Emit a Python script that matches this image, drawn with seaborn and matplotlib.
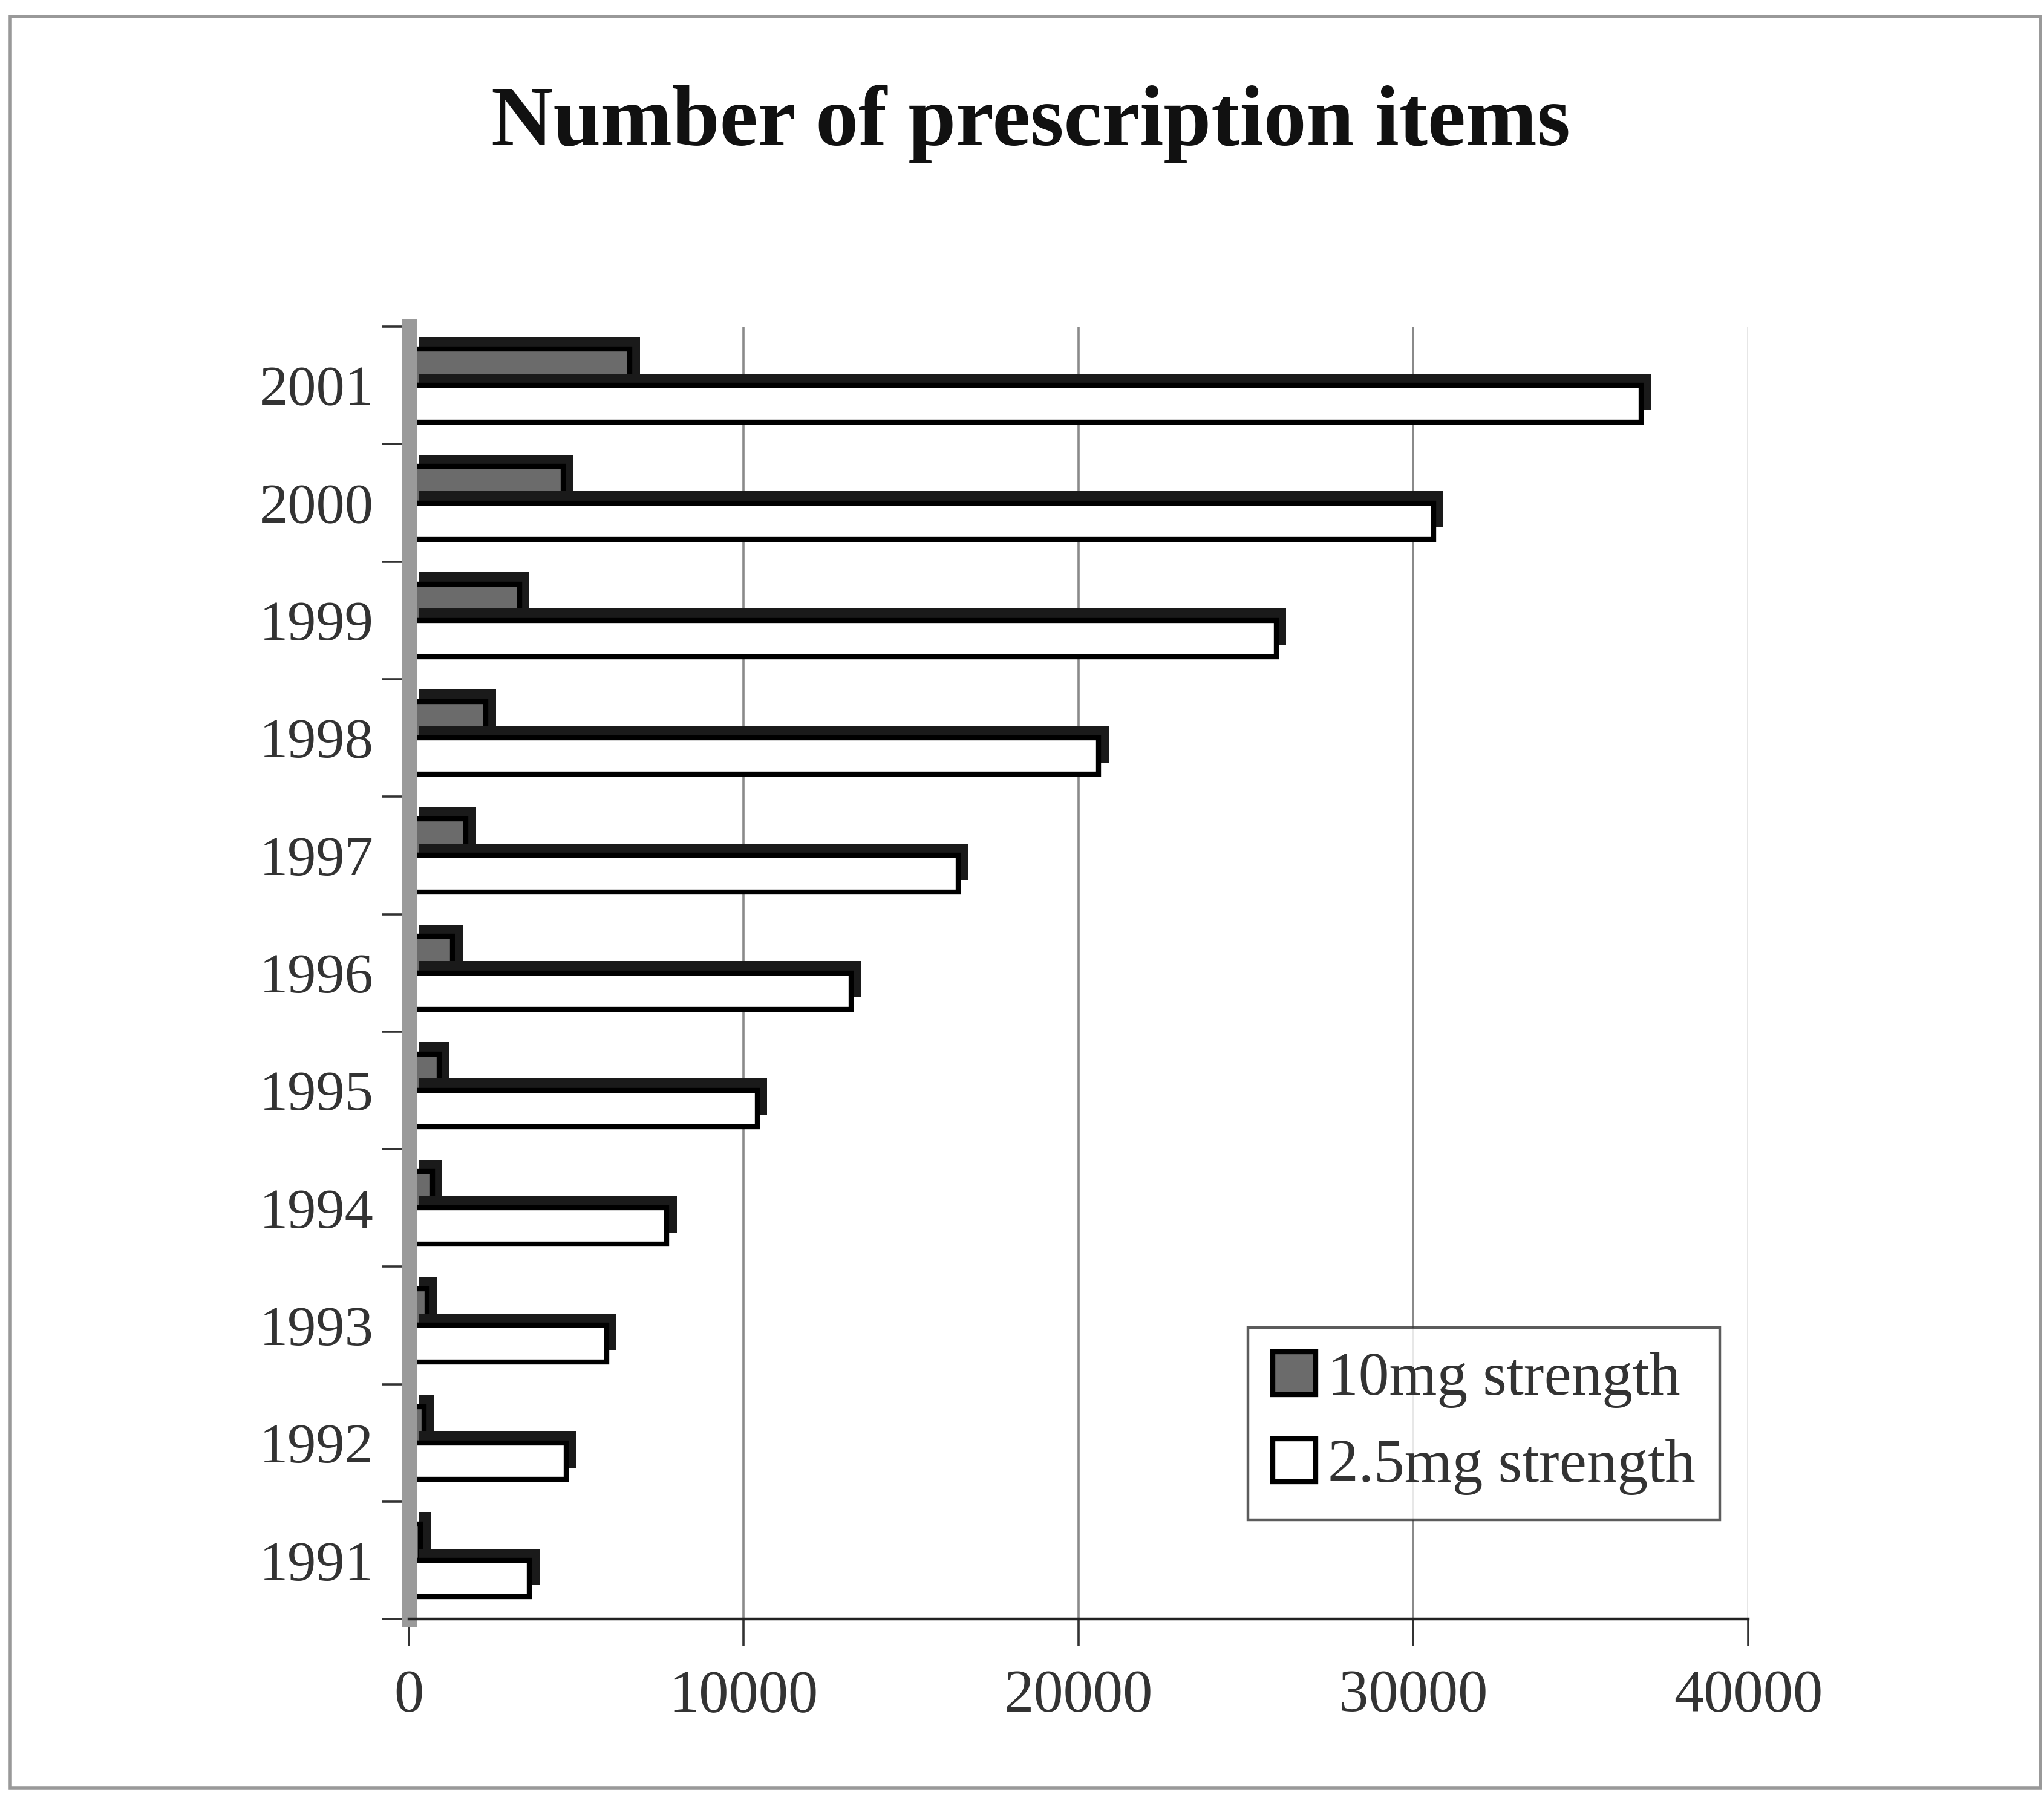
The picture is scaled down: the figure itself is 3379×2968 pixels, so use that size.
import numpy as np
import pandas as pd
import matplotlib
matplotlib.use("Agg")
import matplotlib.pyplot as plt
import matplotlib.patheffects as pe
from matplotlib.patches import Rectangle, Patch
import seaborn as sns

years = ["2001", "2000", "1999", "1998", "1997", "1996", "1995", "1994", "1993", "1992", "1991"]
mg10 = [6600, 4600, 3300, 2300, 1700, 1300, 900, 700, 550, 450, 350]
mg25 = [36800, 30600, 25900, 20600, 16400, 13200, 10400, 7700, 5900, 4700, 3600]
series = ["10mg strength", "2.5mg strength"]
xticks = [0, 10000, 20000, 30000, 40000]

df = pd.DataFrame({
    "year": years * 2,
    "items": mg10 + mg25,
    "strength": [series[0]] * len(years) + [series[1]] * len(years),
})

sns.set_theme(style="white")
plt.rcParams["font.family"] = ["Liberation Serif", "DejaVu Serif"]

fig = plt.figure(figsize=(16.9, 14.84), dpi=200)
ax = fig.add_axes([0.2, 0.098, 0.655, 0.720])

sns.barplot(data=df, x="items", y="year", hue="strength", order=years,
            hue_order=series, palette=["#6b6b6b", "#ffffff"], saturation=1,
            edgecolor="black", linewidth=3.0, width=0.62, orient="h",
            errorbar=None, ax=ax, legend=True)

for p in ax.patches:
    p.set_path_effects([pe.withSimplePatchShadow(offset=(6, 7), shadow_rgbFace="#1a1a1a", alpha=1, rho=1)])

ax.set_xlim(0, 40000)
ax.set_ylim(10.5, -0.5)
ax.set_xticks(xticks)
ax.set_xticklabels([str(v) for v in xticks])
ax.set_xlabel("")
ax.set_ylabel("")
ax.grid(axis="x", color="#8a8a8a", linewidth=1.3)
ax.grid(axis="y", visible=False)
ax.set_axisbelow(True)
ax.xaxis.get_gridlines()[-1].set_color("#e0e0e0")

for s in ["top", "right"]:
    ax.spines[s].set_visible(False)
ax.spines["bottom"].set_color("#222222")
ax.spines["bottom"].set_linewidth(1.6)
ax.spines["left"].set_color("#9a9a9a")
ax.spines["left"].set_linewidth(9)

ax.tick_params(axis="x", which="major", direction="out", length=16, width=1.3,
               color="#333333", labelsize=35.5, labelcolor="#333333", pad=14, bottom=True)
ax.tick_params(axis="y", which="major", length=0, labelsize=34, labelcolor="#333333", pad=21)
ax.set_yticks(np.arange(-0.5, 11, 1), minor=True)
ax.tick_params(axis="y", which="minor", direction="out", length=16, width=1.3,
               color="#333333", left=True)

handles = [Patch(facecolor="#6b6b6b", edgecolor="black", linewidth=3),
           Patch(facecolor="white", edgecolor="black", linewidth=3)]
if ax.get_legend() is not None:
    ax.get_legend().remove()
leg = ax.legend(handles, series, loc="lower right", bbox_to_anchor=(0.979, 0.077),
                fontsize=36.5, frameon=True, fancybox=False, edgecolor="#333333",
                handlelength=0.7, handleheight=0.7, handletextpad=0.2,
                labelspacing=0.5, borderpad=0.4, borderaxespad=0)
leg.get_frame().set_linewidth(1.6)
for t in leg.get_texts():
    t.set_color("#333333")

fig.text(0.504, 0.931, "Number of prescription items", ha="center", va="center",
         fontsize=51, fontweight="bold", color="#111111")

fig.patches.append(Rectangle((0.005, 0.004), 0.993, 0.987, transform=fig.transFigure,
                             fill=False, edgecolor="#999999", linewidth=2))

fig.savefig("out.png", dpi=200, facecolor="white")
